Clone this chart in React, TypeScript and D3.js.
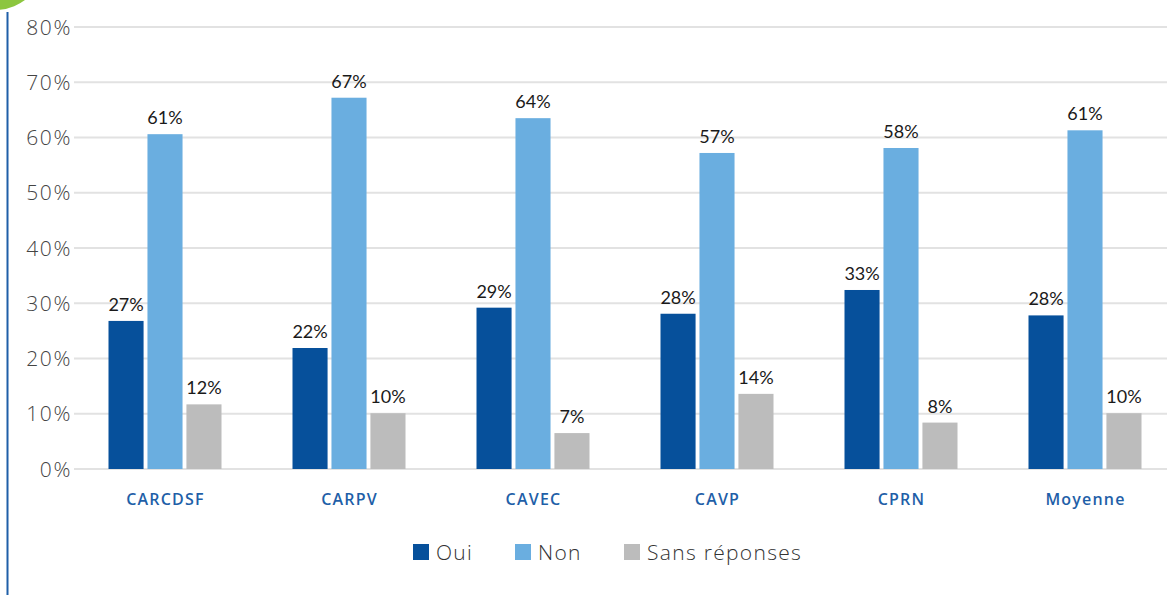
import React from "react";
import * as d3 from "d3";

const categories = ["CARCDSF", "CARPV", "CAVEC", "CAVP", "CPRN", "Moyenne"];
const seriesNames = ["Oui", "Non", "Sans réponses"];
const oui = [26.8, 21.9, 29.2, 28.1, 32.4, 27.8];
const non = [60.6, 67.2, 63.5, 57.2, 58.1, 61.3];
const sans = [11.7, 10.1, 6.5, 13.6, 8.4, 10.1];
const ouiLabels = ["27%", "22%", "29%", "28%", "33%", "28%"];
const nonLabels = ["61%", "67%", "64%", "57%", "58%", "61%"];
const sansLabels = ["12%", "10%", "7%", "14%", "8%", "10%"];
const yTicks = [0, 10, 20, 30, 40, 50, 60, 70, 80];
const colors = ["#06509b", "#6aaee0", "#bcbcbc"];

const W = 1167;
const H = 595;

export default function App() {
  const x0 = d3.scaleBand<string>().domain(categories).range([73, 1177]).padding(0);
  const x1 = d3.scaleBand<string>().domain(seriesNames).range([0, 113]).paddingInner(0.1);
  const y = d3.scaleLinear().domain([0, 80]).range([469, 27]);
  const values = [oui, non, sans];
  const labels = [ouiLabels, nonLabels, sansLabels];
  const font = "Lato, 'Open Sans', sans-serif";
  const font2 = "'Open Sans', Lato, sans-serif";

  const legendX = [413, 515, 624];

  return (
    <svg
      width={W}
      height={H}
      style={{ position: "absolute", left: 0, top: 0, background: "#fff" }}
    >
      <circle cx={-5} cy={-40} r={50} fill="#8cc63f" />
      <line x1={7.5} x2={7.5} y1={12} y2={H} stroke="#1f5fa8" strokeWidth={2} />
      {yTicks.map((t) => (
        <g key={t}>
          <line x1={74} x2={W} y1={y(t)} y2={y(t)} stroke="#e2e2e2" strokeWidth={2} />
          <text
            x={72}
            y={y(t)}
            dy="0.36em"
            textAnchor="end"
            fontFamily={font2}
            fontSize={21}
            fontWeight={300}
            letterSpacing={1.6}
            fill="#444"
          >
            {t}%
          </text>
        </g>
      ))}
      {categories.map((c, i) => {
        const gx = x0(c)! + x0.bandwidth() / 2 - 56.5;
        return (
          <g key={c} transform={`translate(${gx},0)`}>
            {seriesNames.map((s, j) => {
              const v = values[j][i];
              const bx = x1(s)!;
              return (
                <g key={s}>
                  <rect
                    x={bx}
                    y={y(v)}
                    width={x1.bandwidth()}
                    height={y(0) - y(v)}
                    fill={colors[j]}
                  />
                  <text
                    x={bx + x1.bandwidth() / 2}
                    y={y(v) - 10}
                    textAnchor="middle"
                    fontFamily={font}
                    fontSize={18}
                    fill="#1a1a1a"
                  >
                    {labels[j][i]}
                  </text>
                </g>
              );
            })}
            <text
              x={57}
              y={505}
              textAnchor="middle"
              fontFamily={font2}
              fontSize={16}
              fontWeight={600}
              letterSpacing={1.2}
              fill="#1f5fa8"
            >
              {c}
            </text>
          </g>
        );
      })}
      {seriesNames.map((s, j) => (
        <g key={s} transform={`translate(${legendX[j]},544)`}>
          <rect x={0} y={0} width={16} height={16} fill={colors[j]} />
          <text
            x={23}
            y={15.5}
            fontFamily={font2}
            fontSize={21}
            fontWeight={300}
            letterSpacing={1.3}
            fill="#333"
          >
            {s}
          </text>
        </g>
      ))}
    </svg>
  );
}
